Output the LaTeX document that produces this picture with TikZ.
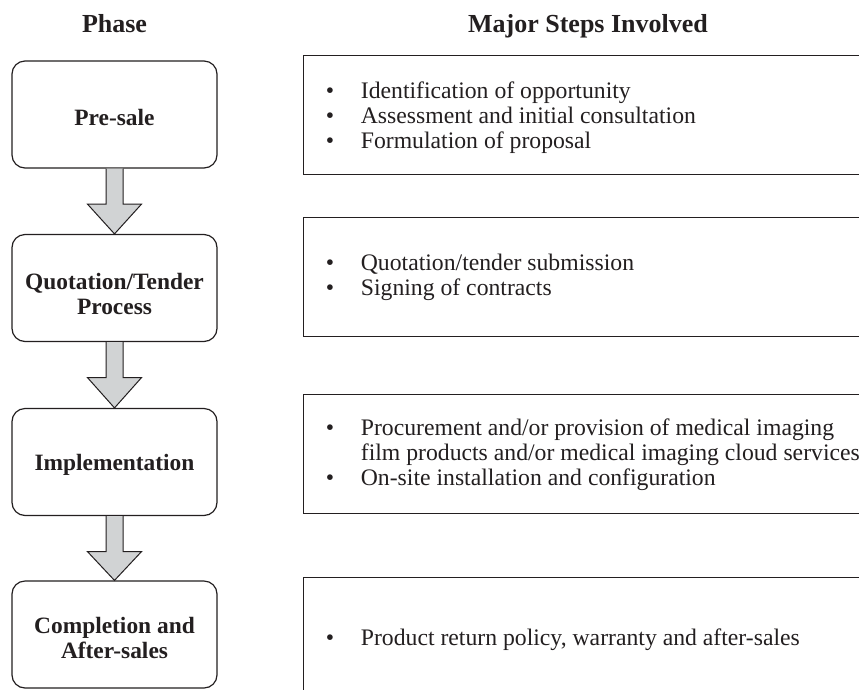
\documentclass[tikz,border=0pt]{standalone}
\usepackage{fontspec}
\setmainfont{Liberation Serif}
\usetikzlibrary{calc}
\definecolor{ink}{HTML}{231F20}
\definecolor{arrowgray}{HTML}{D1D3D4}
\tikzset{
  phasebox/.style={draw=ink, line width=1.2pt, rounded corners=13pt, minimum width=205pt, minimum height=107pt, inner sep=0pt},
  phasetext/.style={align=center, text=ink, font=\fontsize{23.4}{25}\selectfont\bfseries, inner sep=0pt},
  stepsbox/.style={draw=ink, line width=1pt, minimum width=600pt, minimum height=119pt, anchor=north west, inner sep=0pt},
  steptext/.style={anchor=west, text=ink, inner sep=0pt, font=\fontsize{23.7}{25}\selectfont},
  header/.style={anchor=base, text=ink, font=\fontsize{26}{30}\selectfont\bfseries, inner sep=0pt},
  fatarrow/.style={draw=ink, line width=1pt, fill=arrowgray, line join=miter}
}
\newcommand{\bul}{\textbullet}
\newcommand{\steplist}[1]{\begin{tabular}{@{}p{35pt}@{}l@{}}#1\end{tabular}}
\begin{document}
\begin{tikzpicture}[x=1pt,y=-1pt]
\useasboundingbox (0,0) rectangle (859,689);
\clip (0,0) rectangle (859,689);
\fill[white] (0,0) rectangle (859,689);
% headers
\node[header] (hphase) at (114.5,32) {Phase};
\node[header] (hsteps) at (588,32) {Major Steps Involved};
% phase boxes
\node[phasebox] (p1) at (114.5,114.5) {};
\node[phasebox] (p2) at (114.5,288) {};
\node[phasebox] (p3) at (114.5,462) {};
\node[phasebox] (p4) at (114.5,634.5) {};
\node[phasetext] (p1t) at ($(p1.center)+(0,2.5)$) {Pre-sale};
\node[phasetext] (p2t) at ($(p2.center)+(0,6)$) {Quotation/Tender\\Process};
\node[phasetext] (p3t) at ($(p3.center)+(0,2.5)$) {Implementation};
\node[phasetext] (p4t) at ($(p4.center)+(0,3.5)$) {Completion and\\After-sales};
% arrows
\foreach \a/\b in {p1/p2,p2/p3,p3/p4}{
  \draw[fatarrow] ($(\a.south)+(-8.5,0)$) -- ($(\a.south)+(-8.5,35.5)$) -- ($(\a.south)+(-27,35.5)$) -- (\b.north)
    -- ($(\a.south)+(27,35.5)$) -- ($(\a.south)+(8.5,35.5)$) -- ($(\a.south)+(8.5,0)$);
}
% steps boxes
\node[stepsbox] (s1) at (302.7,55.3) {};
\node[stepsbox] (s2) at (302.7,217.3) {};
\node[stepsbox] (s3) at (302.7,394) {};
\node[stepsbox] (s4) at (302.7,577) {};
\node[steptext] (t1) at ($(s1.north west)+(23,63)$) {\steplist{\bul & Identification of opportunity\\ \bul & Assessment and initial consultation\\ \bul & Formulation of proposal}};
\node[steptext] (t2) at ($(s2.north west)+(23,61)$) {\steplist{\bul & Quotation/tender submission\\ \bul & Signing of contracts}};
\node[steptext] (t3) at ($(s3.north west)+(23,61)$) {\steplist{\bul & Procurement and/or provision of medical imaging\\ & film products and/or medical imaging cloud services\\ \bul & On-site installation and configuration}};
\node[steptext] (t4) at ($(s4.north west)+(23,63)$) {\steplist{\bul & Product return policy, warranty and after-sales}};
\end{tikzpicture}
\end{document}
